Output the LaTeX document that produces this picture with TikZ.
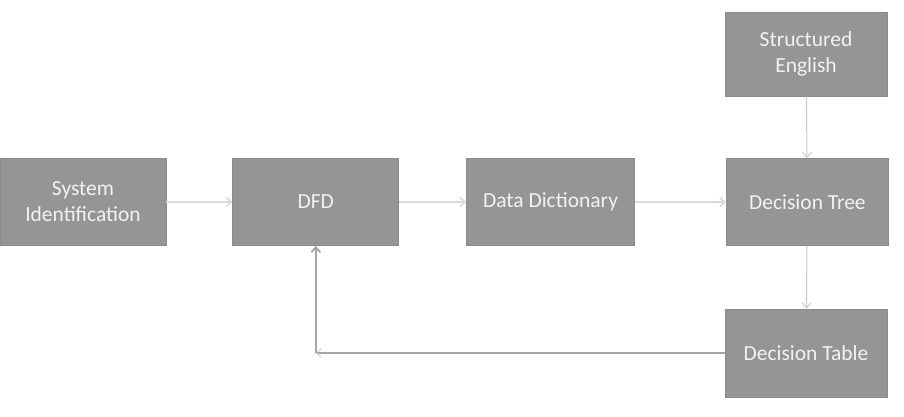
\documentclass[tikz,border=0pt]{standalone}
\usepackage{fontspec}
\setmainfont{Carlito}
\usetikzlibrary{arrows.meta, positioning}

\definecolor{boxgray}{HTML}{959595}
\definecolor{boxedge}{HTML}{8A8A8A}
\definecolor{txtgray}{HTML}{F2F2F2}
\definecolor{linklight}{HTML}{DADADA}
\definecolor{linkmid}{HTML}{C8C8C8}
\definecolor{loopgray}{HTML}{A6A6A6}

\begin{document}
\begin{tikzpicture}[
    x=1pt, y=-1pt,
    node distance=66pt,
    stage/.style={
        rectangle, draw=boxedge, line width=0.8pt,
        fill=boxgray,
        minimum width=166pt, minimum height=87pt,
        text=txtgray, align=center,
        font=\fontsize{21.5}{26}\selectfont
    },
    flow/.style={
        -{Straight Barb[length=5pt, width=9pt]}, line width=1.6pt, color=linklight
    },
    drop/.style={
        -{Straight Barb[length=5pt, width=9pt]}, line width=1pt, color=linkmid
    },
    back/.style={
        line width=1.8pt, color=loopgray
    }
]
\useasboundingbox (0,0) rectangle (904,417);

% Main row of stages
\node[stage] (sysid) at (83,202) {System\\Identification};
\node[stage, right=66pt of sysid] (dfd) {DFD};
\node[stage, right=67pt of dfd, minimum width=168pt] (dd) {Data Dictionary};
\node[stage, right=91pt of dd, minimum width=162pt] (dtree) {Decision Tree};

% Column on the right
\node[stage, minimum width=162pt, minimum height=84pt] (seng) at (806,54) {Structured\\English};
\node[stage, minimum width=162pt, minimum height=88pt] (dtable) at (806,353) {Decision Table};

% Forward arrows
\draw[flow] (sysid) -- (dfd);
\draw[flow] (dfd) -- (dd);
\draw[flow] (dd) -- (dtree);
\draw[drop] (seng) -- (dtree);
\draw[drop] (dtree) -- (dtable);

% Feedback loop to DFD
\coordinate (corner) at (dfd.south |- dtable.west);
\draw[back] (dtable.west) -- (corner);
\draw[drop, line width=0.8pt] ([xshift=2pt]corner) -- (corner);
\draw[back, -{Straight Barb[length=5pt, width=9pt]}] (corner) -- (dfd.south);

\end{tikzpicture}
\end{document}
